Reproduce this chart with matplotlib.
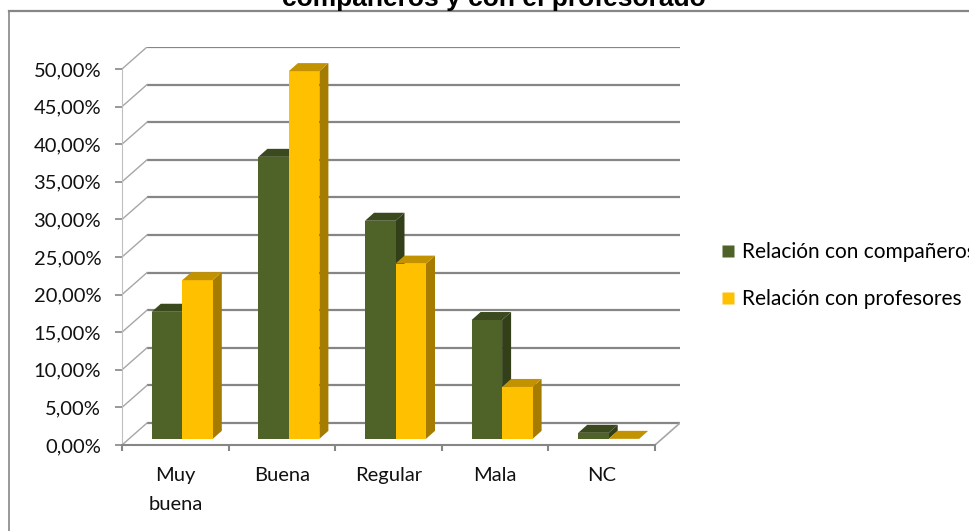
import matplotlib
matplotlib.use('Agg')
import matplotlib.pyplot as plt
from matplotlib.patches import Polygon
from matplotlib.lines import Line2D
from matplotlib.ticker import FixedLocator, FuncFormatter, NullFormatter

# ---------------- data ----------------
categories = ['Muy\nbuena', 'Buena', 'Regular', 'Mala', 'NC']
series_names = ['Relación con compañeros', 'Relación con profesores']
companeros = [16.9, 37.5, 29.0, 15.8, 0.8]
profesores = [21.1, 48.9, 23.3, 6.9, 0.0]
y_ticks = [0, 5, 10, 15, 20, 25, 30, 35, 40, 45, 50]
title = 'compañeros y con el profesorado'

# ---------------- style ----------------
green = {'front': '#4F6228', 'top': '#3B4A1E', 'side': '#323F19'}
yellow = {'front': '#FFC000', 'top': '#C39200', 'side': '#A57C00'}
grid_c = '#868686'
label_font = 'Lato'
fs = 14.5

W, H = 969, 531
fig = plt.figure(figsize=(W / 100, H / 100), dpi=100)

# layout in pixels (front plane of the 3D box)
x0px, x1px = 122, 655
y0px, y50px = 445, 69
dpx, dpy = 25, 22          # depth of the box
n = len(categories)
PXX = (x1px - x0px) / n
PXY = (y0px - y50px) / 50.0
DX, DY = dpx / PXX, dpy / PXY

ax = fig.add_axes([x0px / W, (H - y0px) / H,
                   (x1px + dpx - x0px) / W, (y0px - (y50px - dpy)) / H])
ax.set_xlim(0, n + DX)
ax.set_ylim(0, 50 + DY)
ax.patch.set_visible(False)
for s in ('top', 'right'):
    ax.spines[s].set_visible(False)
ax.spines['left'].set_bounds(0, 50)
ax.spines['bottom'].set_bounds(0, n)
ax.spines['left'].set_color('#BFBFBF')
ax.spines['bottom'].set_color(grid_c)
ax.spines['bottom'].set_linewidth(1.5)

# back wall gridlines + left wall diagonals
for v in y_ticks:
    ax.plot([DX, n + DX], [v + DY, v + DY], color=grid_c, lw=1.6, zorder=1,
            solid_capstyle='butt')
    ax.plot([0, DX], [v, v + DY], color='#A6A6A6', lw=1.0, zorder=1)
# floor right edge
ax.plot([n, n + DX], [0, DY], color='#A6A6A6', lw=1.2, zorder=1)

# bars
w = 30.5 / PXX
f = 0.28
base = f * DY
bdx, bdy = 9 / PXX, 8 / PXY
series = [(companeros, green, -w), (profesores, yellow, 0.0)]
for k, (vals, col, off) in enumerate(series):
    lefts = [i + 0.5 + off + f * DX for i in range(n)]
    zb = 3 + 2 * k
    ax.bar(lefts, vals, width=w, bottom=base, align='edge',
           color=col['front'], zorder=zb + 0.5, linewidth=0)
    for xl, v in zip(lefts, vals):
        t = base + v
        xr = xl + w
        side = Polygon([(xr, base), (xr + bdx, base + bdy), (xr + bdx, t + bdy), (xr, t)],
                       closed=True, facecolor=col['side'], edgecolor='none', zorder=zb)
        top = Polygon([(xl, t), (xr, t), (xr + bdx, t + bdy), (xl + bdx, t + bdy)],
                      closed=True, facecolor=col['top'], edgecolor='none', zorder=zb + 0.6)
        ax.add_patch(side)
        ax.add_patch(top)

# y axis
ax.yaxis.set_major_locator(FixedLocator(y_ticks))
ax.yaxis.set_major_formatter(FuncFormatter(lambda v, p: f'{v:.2f}%'.replace('.', ',')))
ax.tick_params(axis='y', length=5, width=1.2, color=grid_c, pad=10,
               labelsize=fs, labelcolor='#111111')

# x axis
ax.xaxis.set_major_locator(FixedLocator(list(range(n + 1))))
ax.xaxis.set_major_formatter(NullFormatter())
ax.set_xticks([i + 0.5 for i in range(n)], categories, minor=True)
ax.tick_params(axis='x', which='major', length=4, width=1.5, color=grid_c)
ax.tick_params(axis='x', which='minor', length=0, pad=16, labelsize=fs,
               labelcolor='#111111')
for lab in ax.get_xticklabels(minor=True) + ax.get_yticklabels():
    lab.set_family(label_font)
for lab in ax.get_xticklabels(minor=True):
    lab.set_linespacing(1.85)
    lab.set_verticalalignment('top')

# legend
handles = [Line2D([], [], marker='s', linestyle='none', markersize=8,
                  markerfacecolor=c['front'], markeredgecolor='none')
           for c in (green, yellow)]
fig.legend(handles, series_names, loc='center left',
           bbox_to_anchor=(722 / W, 1 - 275.5 / H), frameon=False,
           handlelength=0.6, handletextpad=0.35, labelspacing=1.3,
           borderpad=0, borderaxespad=0,
           prop={'family': label_font, 'size': 15})

# chart border
fig.add_artist(Line2D([9 / W, 9 / W], [0, 1 - 11 / H], transform=fig.transFigure,
                      color=grid_c, lw=1.2))
fig.add_artist(Line2D([9 / W, 1], [1 - 11 / H, 1 - 11 / H], transform=fig.transFigure,
                      color=grid_c, lw=1.6))

# title (partly cut off at the top, as in the reference)
fig.text(494 / W, 1 - 6 / H, title, ha='center', va='baseline',
         fontsize=19, weight='bold', family='Liberation Sans')

fig.savefig('out.png', dpi=100)
